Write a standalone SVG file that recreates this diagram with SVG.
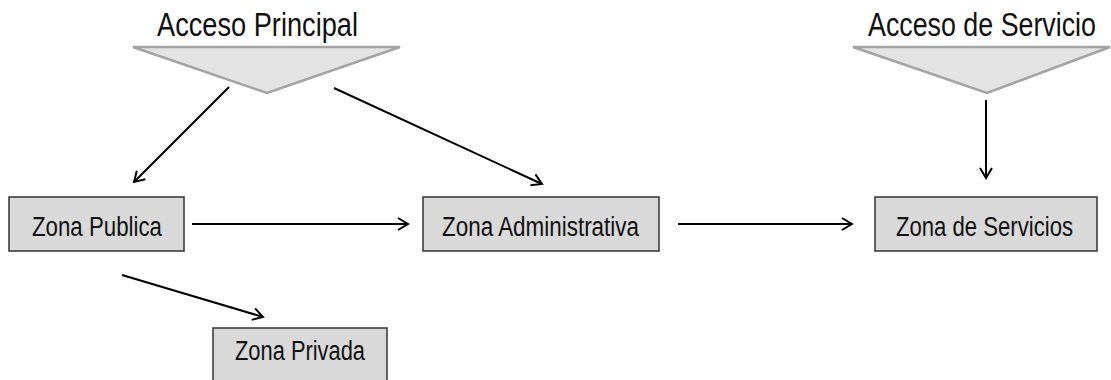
<svg xmlns="http://www.w3.org/2000/svg" width="1111" height="380" viewBox="0 0 1111 380">
  <defs>
    <style>
      .title { font-family: "Liberation Sans", Arial, sans-serif; font-size: 33px; fill: #111; text-anchor: middle; }
      .label { font-family: "Liberation Sans", Arial, sans-serif; font-size: 27px; fill: #111; text-anchor: middle; }
      .box { fill: #d9d9d9; stroke: #333; stroke-width: 1.5; }
      .entry { fill: #e3e3e3; stroke: #a3a3a3; stroke-width: 2.5; stroke-linejoin: miter; }
      .conn { stroke: #000; stroke-width: 2; fill: none; marker-end: url(#arrow); }
    </style>
    <marker id="arrow" markerUnits="userSpaceOnUse" viewBox="-12 -8 14 16" refX="0" refY="0" markerWidth="14" markerHeight="16" orient="auto">
      <path d="M-10,-6 L0,0 L-10,6" fill="none" stroke="#000" stroke-width="2"/>
    </marker>
  </defs>

  <!-- entry points (condensed lettering via textLength) -->
  <g id="acceso-principal">
    <polygon class="entry" points="133,47 400,47 267,93"/>
    <text class="title" x="257.5" y="36" textLength="201" lengthAdjust="spacingAndGlyphs">Acceso Principal</text>
  </g>
  <g id="acceso-servicio">
    <polygon class="entry" points="853,47 1110,47 987,93"/>
    <text class="title" x="982" y="36" textLength="228" lengthAdjust="spacingAndGlyphs">Acceso de Servicio</text>
  </g>

  <!-- zones -->
  <g id="zona-publica">
    <rect class="box" x="9" y="197" width="175" height="54"/>
    <text class="label" x="97" y="236" textLength="130" lengthAdjust="spacingAndGlyphs">Zona Publica</text>
  </g>
  <g id="zona-administrativa">
    <rect class="box" x="423" y="197" width="236" height="54"/>
    <text class="label" x="540.5" y="236" textLength="197" lengthAdjust="spacingAndGlyphs">Zona Administrativa</text>
  </g>
  <g id="zona-servicios">
    <rect class="box" x="875" y="197" width="222" height="54"/>
    <text class="label" x="984.5" y="236" textLength="177" lengthAdjust="spacingAndGlyphs">Zona de Servicios</text>
  </g>
  <g id="zona-privada">
    <rect class="box" x="213" y="328" width="174" height="56"/>
    <text class="label" x="300" y="360" textLength="130" lengthAdjust="spacingAndGlyphs">Zona Privada</text>
  </g>

  <!-- connectors -->
  <g id="connectors">
    <line class="conn" x1="229" y1="87" x2="134" y2="182"/>
    <line class="conn" x1="334" y1="88" x2="542" y2="184"/>
    <line class="conn" x1="192" y1="224" x2="408" y2="224"/>
    <line class="conn" x1="678" y1="224" x2="852" y2="224"/>
    <line class="conn" x1="986" y1="100" x2="986" y2="178"/>
    <line class="conn" x1="122" y1="275" x2="263" y2="317"/>
  </g>
</svg>
